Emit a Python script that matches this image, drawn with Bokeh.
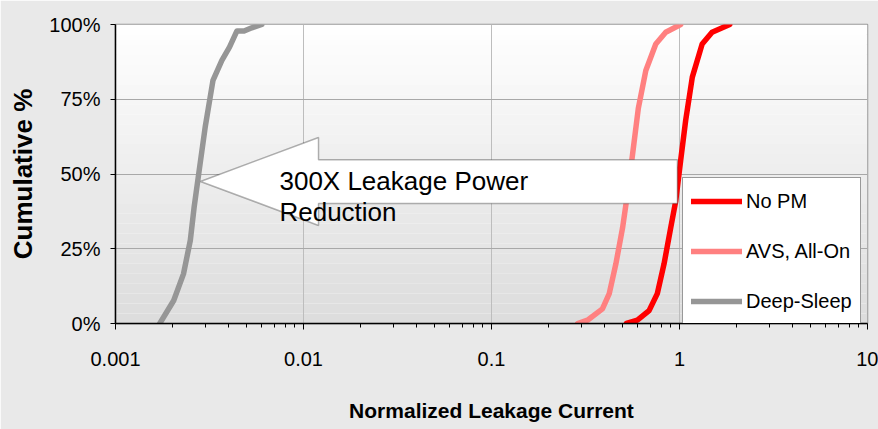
from bokeh.plotting import figure
from bokeh.models import (FixedTicker, NumeralTickFormatter, Legend, LegendItem,
                          PolyAnnotation, Label, BoxAnnotation, Range1d)
from bokeh.embed import file_html
from bokeh.resources import INLINE

# ---- data ----
nopm_x = [0.522, 0.597, 0.689, 0.762, 0.828, 0.898, 0.955, 1.014, 1.079, 1.17, 1.32, 1.49, 1.85]
nopm_y = [0, 1.1, 4.3, 10, 20, 32, 41, 54.5, 68, 82.4, 93.5, 97.4, 100]
avs_x = [0.287, 0.324, 0.389, 0.423, 0.459, 0.498, 0.535, 0.569, 0.604, 0.662, 0.748, 0.845, 1.014]
avs_y = [0, 1.1, 4.9, 10, 20, 32, 45.6, 59, 72, 84.6, 93.5, 97.4, 100]
deep_x = [0.00172, 0.00204, 0.0023, 0.0025, 0.00262, 0.00277, 0.0030, 0.0033, 0.00368,
          0.00404, 0.00442, 0.00483, 0.00531, 0.0060]
deep_y = [0, 7.7, 16.6, 27.8, 38.9, 50, 65.7, 81.3, 88, 92.4, 97.8, 97.8, 98.9, 100]

series_names = ["No PM", "AVS, All-On", "Deep-Sleep"]
x_ticks = [0.001, 0.01, 0.1, 1, 10]
x_minor = [m * d for d in [0.001, 0.01, 0.1, 1] for m in range(2, 10)]
y_ticks = [0, 0.25, 0.5, 0.75, 1.0]

FONT = "Liberation Sans"
BG = "#e9e9e9"

p = figure(width=878, height=429, x_axis_type="log", output_backend="svg",
           toolbar_location=None, x_range=Range1d(0.001, 10), y_range=Range1d(0, 1),
           min_border_left=115, min_border_right=11, min_border_top=24,
           min_border_bottom=106)
p.background_fill_color = "#ffffff"
p.border_fill_color = BG
p.outline_line_color = "#999999"
p.outline_line_width = 1.5

# gradient background of plot area
nb = 30
for i in range(nb):
    t = (i + 0.5) / nb
    c = int(round(220 + (255 - 220) * t))
    p.add_layout(BoxAnnotation(bottom=i / nb, top=(i + 1) / nb,
                               fill_color="#%02x%02x%02x" % (c, c, c), fill_alpha=1,
                               line_alpha=0, level="image"))

# grid
p.ygrid.ticker = FixedTicker(ticks=y_ticks)
p.ygrid.grid_line_color = "#a8a8a8"
p.xgrid.ticker = FixedTicker(ticks=x_ticks)
p.xgrid.grid_line_color = "#bdbdbd"

# axes
p.xaxis.ticker = FixedTicker(ticks=x_ticks, minor_ticks=x_minor)
p.xaxis.formatter = NumeralTickFormatter(format="0.[000]")
p.yaxis.ticker = FixedTicker(ticks=y_ticks)
p.yaxis.formatter = NumeralTickFormatter(format="0%")
for ax in (p.xaxis, p.yaxis):
    ax.axis_line_color = "black"
    ax.axis_line_width = 1.5
    ax.major_tick_line_color = "black"
    ax.minor_tick_line_color = "black"
    ax.major_label_text_font = FONT
    ax.major_label_text_font_size = "20px"
    ax.major_label_text_color = "black"
p.xaxis.major_tick_out = 6
p.xaxis.major_tick_in = 0
p.xaxis.minor_tick_out = 4
p.xaxis.minor_tick_in = 0
p.yaxis.major_tick_out = 5
p.yaxis.major_tick_in = 0
p.yaxis.minor_tick_line_color = None
p.xaxis.major_label_standoff = 22
p.yaxis.major_label_standoff = 10

p.xaxis.axis_label = "Normalized Leakage Current"
p.xaxis.axis_label_text_font = FONT
p.xaxis.axis_label_text_font_style = "bold"
p.xaxis.axis_label_text_font_size = "21px"
p.xaxis.axis_label_text_color = "black"
p.xaxis.axis_label_standoff = 30
p.yaxis.axis_label = "Cumulative %"
p.yaxis.axis_label_text_font = FONT
p.yaxis.axis_label_text_font_style = "bold"
p.yaxis.axis_label_text_font_size = "26px"
p.yaxis.axis_label_text_color = "black"
p.yaxis.axis_label_standoff = 8

# series
r1 = p.line(nopm_x, [v / 100 for v in nopm_y], line_color="#ff0000",
            line_width=5.5, line_cap="round", line_join="round")
r2 = p.line(avs_x, [v / 100 for v in avs_y], line_color="#ff8080",
            line_width=5.5, line_cap="round", line_join="round")
r3 = p.line(deep_x, [v / 100 for v in deep_y], line_color="#969696",
            line_width=5.5, line_cap="round", line_join="round")

# arrow annotation
arrow = PolyAnnotation(
    xs=[0.00283, 0.01202, 0.01202, 0.975, 0.975, 0.01202, 0.01202],
    ys=[0.475, 0.622, 0.548, 0.548, 0.401, 0.401, 0.328],
    fill_color="white", fill_alpha=1, line_color="black", line_width=1.5)
p.add_layout(arrow)
p.add_layout(Label(x=0.00745, y=0.428, text="300X Leakage Power",
                   text_font=FONT, text_font_size="26px", text_color="black"))
p.add_layout(Label(x=0.00745, y=0.322, text="Reduction",
                   text_font=FONT, text_font_size="26px", text_color="black"))

legend = Legend(items=[LegendItem(label=series_names[0], renderers=[r1]),
                       LegendItem(label=series_names[1], renderers=[r2]),
                       LegendItem(label=series_names[2], renderers=[r3])],
                location=(567, -2))
legend.label_text_font = FONT
legend.label_text_font_size = "20px"
legend.label_text_color = "black"
legend.glyph_width = 51
legend.glyph_height = 30
legend.label_height = 30
legend.label_standoff = 4
legend.spacing = 20
legend.padding = 8
legend.margin = 0
legend.border_line_color = "#333333"
legend.border_line_width = 1
legend.background_fill_color = "white"
legend.background_fill_alpha = 1
p.add_layout(legend)

open("out.html", "w").write(file_html(p, INLINE))
